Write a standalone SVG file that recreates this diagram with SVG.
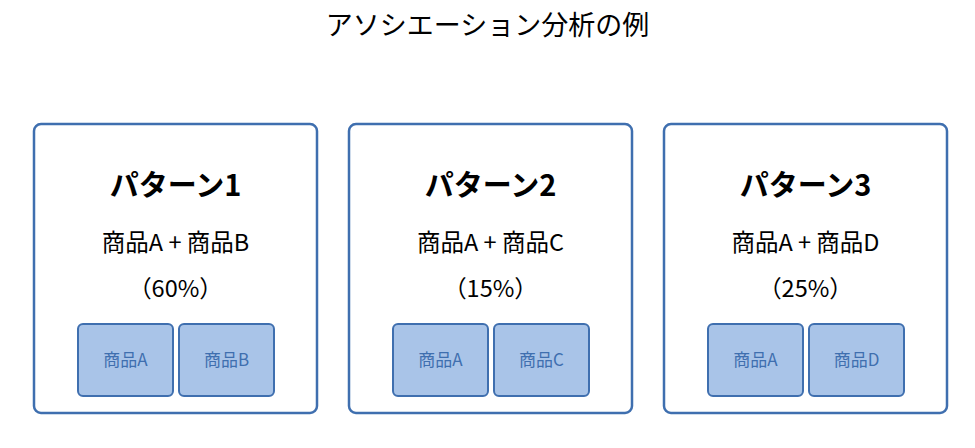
<svg xmlns="http://www.w3.org/2000/svg" width="975" height="448" viewBox="0 0 975 448">
<style>
text{font-family:"Noto Sans CJK JP","Noto Sans",sans-serif;text-anchor:middle;fill:#000}
.card{fill:#fff;stroke:#3f6faf;stroke-width:2.5}
.item{fill:#a9c4e8;stroke:#3f6faf;stroke-width:2}
.h{font-size:29px;font-weight:bold}
.l{font-size:23.5px}
.s{font-size:17px;fill:#3f6faf}
.t{font-size:27px}
</style>
<rect width="975" height="448" fill="#fff"/>
<text class="t" x="487.5" y="35">アソシエーション分析の例</text>
<g id="pattern1">
<rect class="card" x="34" y="124" width="283" height="289" rx="7"/>
<text class="h" x="175.5" y="196">パターン1</text>
<text class="l" x="175.5" y="251">商品A + 商品B</text>
<text class="l" x="175.5" y="297">（60%）</text>
</g>
<g id="p1a"><rect class="item" x="78" y="324" width="95" height="72" rx="5"/><text class="s" x="125.5" y="366">商品A</text></g>
<g id="p1b"><rect class="item" x="179" y="324" width="95" height="72" rx="5"/><text class="s" x="226.5" y="366">商品B</text></g>
<g id="pattern2">
<rect class="card" x="349" y="124" width="283" height="289" rx="7"/>
<text class="h" x="490.5" y="196">パターン2</text>
<text class="l" x="490.5" y="251">商品A + 商品C</text>
<text class="l" x="490.5" y="297">（15%）</text>
</g>
<g id="p2a"><rect class="item" x="393" y="324" width="95" height="72" rx="5"/><text class="s" x="440.5" y="366">商品A</text></g>
<g id="p2c"><rect class="item" x="494" y="324" width="95" height="72" rx="5"/><text class="s" x="541.5" y="366">商品C</text></g>
<g id="pattern3">
<rect class="card" x="664" y="124" width="283" height="289" rx="7"/>
<text class="h" x="805.5" y="196">パターン3</text>
<text class="l" x="805.5" y="251">商品A + 商品D</text>
<text class="l" x="805.5" y="297">（25%）</text>
</g>
<g id="p3a"><rect class="item" x="708" y="324" width="95" height="72" rx="5"/><text class="s" x="755.5" y="366">商品A</text></g>
<g id="p3d"><rect class="item" x="809" y="324" width="95" height="72" rx="5"/><text class="s" x="856.5" y="366">商品D</text></g>
<g id="connectors"></g>
</svg>
